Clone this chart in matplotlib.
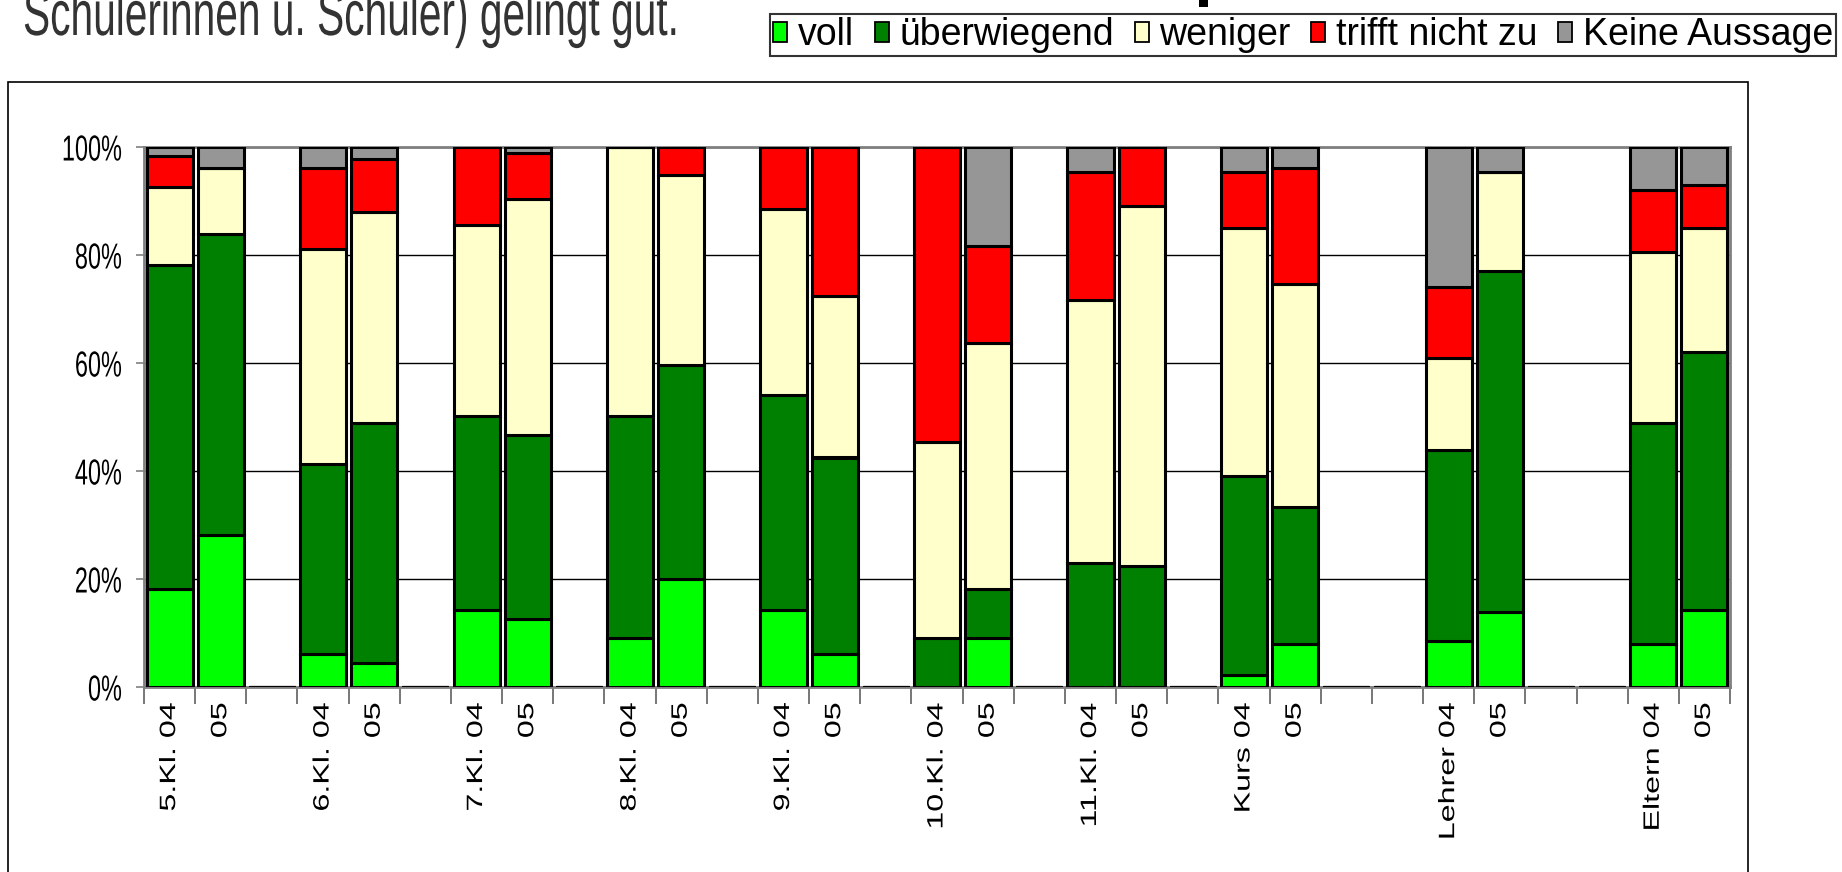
import matplotlib
matplotlib.use("Agg")
import matplotlib.pyplot as plt
from matplotlib.patches import Rectangle
from matplotlib.patheffects import AbstractPathEffect
from matplotlib.transforms import Affine2D
import numpy as np

# Kategorien (leere Einträge = Lücken zwischen den Gruppen)
categories = [
  "5.Kl. 04", "05", "",
  "6.Kl. 04", "05", "",
  "7.Kl. 04", "05", "",
  "8.Kl. 04", "05", "",
  "9.Kl. 04", "05", "",
  "10.Kl. 04", "05", "",
  "11.Kl. 04", "05", "",
  "Kurs 04", "05", "", "",
  "Lehrer 04", "05", "", "",
  "Eltern 04", "05",
]

voll = [18.2, 28.1, 0, 6.2, 4.5, 0, 14.2, 12.6, 0, 9.1, 20.0, 0, 14.2, 6.2, 0,
        0, 9.1, 0, 0, 0, 0, 2.3, 8.0, 0, 0, 8.6, 13.8, 0, 0, 8.0, 14.3]
ueberwiegend = [59.9, 55.8, 0, 35.1, 44.4, 0, 35.9, 34.0, 0, 41.0, 39.7, 0, 39.8, 36.3, 0,
                9.1, 9.1, 0, 23.0, 22.4, 0, 36.8, 25.3, 0, 0, 35.2, 63.3, 0, 0, 40.9, 47.8]
weniger = [14.4, 12.2, 0, 39.8, 39.1, 0, 35.5, 43.7, 0, 49.9, 35.2, 0, 34.5, 29.9, 0,
           36.2, 45.5, 0, 48.7, 66.6, 0, 45.9, 41.4, 0, 0, 17.1, 18.3, 0, 0, 31.6, 22.9]
trifft_nicht = [5.8, 0, 0, 15.0, 9.7, 0, 14.4, 8.5, 0, 0, 5.1, 0, 11.5, 27.6, 0,
                54.7, 17.9, 0, 23.7, 11.0, 0, 10.4, 21.4, 0, 0, 13.2, 0, 0, 0, 11.5, 8.0]
keine_aussage = [1.7, 3.9, 0, 3.9, 2.3, 0, 0, 1.2, 0, 0, 0, 0, 0, 0, 0,
                 0, 18.4, 0, 4.6, 0, 0, 4.6, 3.9, 0, 0, 25.9, 4.6, 0, 0, 8.0, 7.0]

series_names = ["voll", "überwiegend", "weniger", "trifft nicht zu", "Keine Aussage"]
series_vals = [voll, ueberwiegend, weniger, trifft_nicht, keine_aussage]
colors = ["#00FF00", "#008000", "#FFFFCC", "#FF0000", "#969696"]

title_text = "Schülerinnen u. Schüler) gelingt gut."


class Squeeze(AbstractPathEffect):
  # schmale/gestreckte Schrift wie in Excel: Skalierung um einen Ankerpunkt (Pixel)
  def __init__(self, sx=1.0, sy=1.0, x0=0.0, y0=0.0):
    super().__init__()
    self.sx, self.sy, self.x0, self.y0 = sx, sy, x0, y0

  def draw_path(self, renderer, gc, tpath, affine, rgbFace=None):
    t = affine + Affine2D().translate(-self.x0, -self.y0).scale(self.sx, self.sy).translate(self.x0, self.y0)
    renderer.draw_path(gc, tpath, t, rgbFace)


plt.rcParams["font.family"] = ["Liberation Sans", "DejaVu Sans"]

W, H = 1842, 872
fig = plt.figure(figsize=(W / 100, H / 100), dpi=100)

# Rahmen um das Diagramm
fig.patches.append(Rectangle((8 / W, -0.05), (1748 - 8) / W, 1.05 - 82 / H,
                             transform=fig.transFigure, fill=False,
                             edgecolor="black", linewidth=1.2))
# Rest eines Zeichens aus der Zeile darüber
fig.patches.append(Rectangle((1199 / W, 1 - 7 / H), 9 / W, 7 / H,
                             transform=fig.transFigure, color="black", linewidth=0))

AX_L, AX_R, AX_T, AX_B = 144, 1730, 147, 687
ax = fig.add_axes([AX_L / W, 1 - AX_B / H, (AX_R - AX_L) / W, (AX_B - AX_T) / H])

x = np.arange(len(categories))
bottom = np.zeros(len(categories))
for name, vals, c in zip(series_names, series_vals, colors):
  v = np.array(vals)
  ax.bar(x, v, 0.9, bottom=bottom, color=c, edgecolor="black",
         linewidth=2.2, label=name, zorder=3)
  bottom += v

ax.set_xlim(-0.5, len(categories) - 0.5)
ax.set_ylim(0, 100)

ytick_len, ytick_pad = 6, 10
ax.set_yticks([0, 20, 40, 60, 80, 100])
ax.set_yticklabels(["0%", "20%", "40%", "60%", "80%", "100%"], fontsize=26)
ax.tick_params(axis="y", length=ytick_len, width=1.2, color="#808080", pad=ytick_pad)
y_x0 = AX_L - (ytick_len + ytick_pad) * 100 / 72
for t in ax.get_yticklabels():
  t.set_path_effects([Squeeze(sx=0.65, x0=y_x0)])
ax.yaxis.grid(True, color="black", linewidth=1.0, zorder=0)
ax.set_axisbelow(True)

xtick_pad = 11
ax.set_xticks(x)
ax.set_xticklabels(categories, rotation=90, fontsize=16, va="top")
ax.tick_params(axis="x", which="major", length=0, pad=xtick_pad)
x_y0 = (H - AX_B) - xtick_pad * 100 / 72
for t in ax.get_xticklabels():
  t.set_path_effects([Squeeze(sy=1.45, y0=x_y0)])
ax.set_xticks(np.arange(-0.5, len(categories)), minor=True)
ax.tick_params(axis="x", which="minor", length=12, width=1.2, color="#606060")

for s in ax.spines.values():
  s.set_color("#808080")
  s.set_linewidth(2)

# Überschrift (oben abgeschnitten wie im Original)
tx, tbase = 23, 35
ttl = fig.text(tx / W, 1 - tbase / H, title_text, fontsize=31.5,
               color="#333333", va="baseline", ha="left")
ttl.set_path_effects([Squeeze(sx=0.93, sy=1.45, x0=tx, y0=H - tbase)])

leg = fig.legend(loc="upper right", bbox_to_anchor=(1836 / W, 1 - 14 / H), ncol=5,
                 fontsize=27, frameon=True, fancybox=False, handlelength=0.38,
                 handleheight=0.45, handletextpad=0.28, columnspacing=0.55,
                 borderpad=0.08, borderaxespad=0)
leg.get_frame().set_edgecolor("black")
leg.get_frame().set_linewidth(1.5)
for p in leg.get_patches():
  p.set_linewidth(1.3)

fig.savefig("out.png", dpi=100)
